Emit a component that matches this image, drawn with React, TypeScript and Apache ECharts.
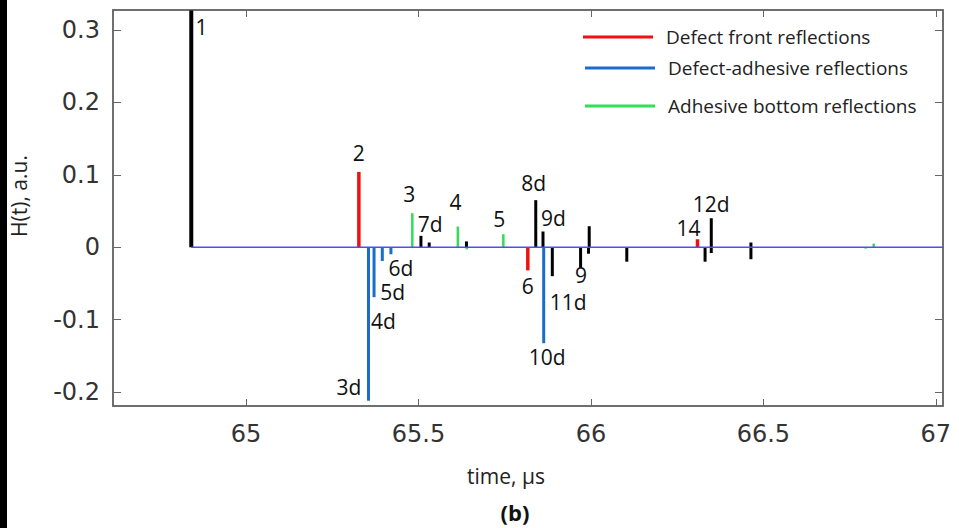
import React, { useEffect, useRef } from "react";
import * as echarts from "echarts";

// ---- data (time in µs, amplitude in a.u.) ----
const blackStemFirst: [number, number][] = [[64.841, 0.327]];
const blackStems: [number, number][] = [
  [65.507, 0.0157], [65.531, 0.0065], [65.639, 0.008], [65.84, 0.065],
  [65.861, 0.0217], [65.888, -0.04], [65.97, -0.029], [65.995, 0.029],
  [65.993, -0.009], [66.104, -0.02], [66.331, -0.02], [66.349, 0.04],
  [66.349, -0.008], [66.464, 0.0065], [66.464, -0.0166],
];
const redStems: [number, number][] = [[65.327, 0.104], [65.817, -0.032], [66.309, 0.011]];
const blueStems: [number, number][] = [
  [65.355, -0.212], [65.371, -0.069], [65.395, -0.019], [65.42, -0.0097], [65.863, -0.1326],
];
const greenStems: [number, number][] = [
  [65.482, 0.047], [65.614, 0.0286], [65.746, 0.018], [65.64, -0.003], [66.797, -0.002], [66.82, 0.005],
];
const baseline: [number, number][] = [[64.841, 0], [67.021, 0]];
const peakLabels: [string, number, number][] = [
  ["1", 64.871, 0.304], ["2", 65.327, 0.13], ["3", 65.473, 0.0739], ["7d", 65.534, 0.0318],
  ["4", 65.607, 0.0628], ["5", 65.734, 0.039], ["6d", 65.449, -0.029], ["5d", 65.425, -0.062],
  ["4d", 65.398, -0.1015], ["3d", 65.298, -0.193], ["8d", 65.834, 0.089], ["9d", 65.891, 0.0407],
  ["6", 65.817, -0.053], ["9", 65.971, -0.039], ["11d", 65.934, -0.076], ["10d", 65.873, -0.152],
  ["14", 66.283, 0.027], ["12d", 66.349, 0.0594],
];
const xTicks = [65, 65.5, 66, 66.5, 67];
const yTicks = [-0.2, -0.1, 0, 0.1, 0.2, 0.3];
const legendNames = ["Defect front reflections", "Defect-adhesive reflections", "Adhesive bottom reflections"];

const X_MIN = 64.614;
const X_MAX = 67.021;
const Y_MIN = -0.2193;
const Y_MAX = 0.3276;

function stemSeries(name: string, data: [number, number][], color: string, width: number, z = 3) {
  return {
    name,
    type: "custom",
    z,
    data,
    encode: { x: 0, y: 1 },
    itemStyle: { color },
    renderItem: (params: any, api: any) => {
      const x = api.value(0);
      const y = api.value(1);
      const p0 = api.coord([x, 0]);
      const p1 = api.coord([x, y]);
      return {
        type: "line",
        shape: { x1: p0[0], y1: p0[1], x2: p1[0], y2: p1[1] },
        style: { stroke: color, lineWidth: width },
      };
    },
  };
}

const axisColor = "#666";

export default function App() {
  const ref = useRef<HTMLDivElement>(null);
  useEffect(() => {
    if (!ref.current) return;
    const chart = echarts.init(ref.current, undefined, { renderer: "svg" });
    const legendBase = {
      orient: "horizontal",
      icon: "rect",
      itemWidth: 70,
      itemHeight: 3,
      padding: 0,
      selectedMode: false,
      textStyle: {
        fontFamily: "Open Sans",
        fontSize: 19,
        color: "#222",
        lineHeight: 22,
        padding: [0, 0, 0, 8],
      },
    };
    const axisLine = { show: true, onZero: false, lineStyle: { color: axisColor, width: 1.5 } };
    chart.setOption({
      animation: false,
      backgroundColor: "#fff",
      grid: {
        left: 113,
        right: 16,
        top: 10,
        bottom: 122,
        show: true,
        borderColor: axisColor,
        borderWidth: 1.5,
        backgroundColor: "transparent",
      },
      legend: [
        { ...legendBase, data: [legendNames[0]], left: 583, top: 26 },
        { ...legendBase, data: [legendNames[1]], left: 585, top: 57 },
        { ...legendBase, data: [legendNames[2]], left: 585, top: 95 },
      ],
      xAxis: [
        {
          type: "value",
          min: X_MIN,
          max: X_MAX,
          position: "bottom",
          splitLine: { show: false },
          axisLine,
          axisTick: { show: true, inside: true, length: 7, customValues: xTicks, lineStyle: { color: axisColor } },
          axisLabel: {
            customValues: xTicks,
            fontFamily: "DejaVu Sans",
            fontSize: 24,
            color: "#333",
            margin: 16,
          },
        },
        {
          type: "value",
          min: X_MIN,
          max: X_MAX,
          position: "top",
          splitLine: { show: false },
          axisLine,
          axisTick: { show: true, inside: true, length: 7, customValues: xTicks, lineStyle: { color: axisColor } },
          axisLabel: { show: false },
        },
      ],
      yAxis: [
        {
          type: "value",
          min: Y_MIN,
          max: Y_MAX,
          position: "left",
          splitLine: { show: false },
          axisLine,
          axisTick: { show: true, inside: true, length: 8, customValues: yTicks, lineStyle: { color: axisColor } },
          axisLabel: {
            customValues: yTicks,
            fontFamily: "DejaVu Sans",
            fontSize: 24,
            color: "#333",
            margin: 13,
          },
        },
        {
          type: "value",
          min: Y_MIN,
          max: Y_MAX,
          position: "right",
          splitLine: { show: false },
          axisLine,
          axisTick: { show: true, inside: true, length: 8, customValues: yTicks, lineStyle: { color: axisColor } },
          axisLabel: { show: false },
        },
      ],
      graphic: [
        { type: "rect", shape: { x: 0, y: 0, width: 7, height: 528 }, style: { fill: "#000" } },
        {
          type: "text",
          x: 19,
          y: 196,
          rotation: Math.PI / 2,
          style: {
            text: "H(t), a.u.",
            fontFamily: "Open Sans",
            fontSize: 21,
            fill: "#222",
            align: "center",
            verticalAlign: "middle",
          },
        },
        {
          type: "text",
          x: 506,
          y: 476,
          style: {
            text: "time, µs",
            fontFamily: "Open Sans",
            fontSize: 21,
            fill: "#222",
            align: "center",
            verticalAlign: "middle",
          },
        },
        {
          type: "text",
          x: 515,
          y: 512,
          style: {
            text: "(b)",
            fontFamily: "Open Sans",
            fontSize: 22,
            fontWeight: "bold",
            fill: "#111",
            align: "center",
            verticalAlign: "middle",
          },
        },
      ],
      series: [
        stemSeries("first", blackStemFirst, "#000", 4),
        stemSeries("other", blackStems, "#000", 3),
        stemSeries(legendNames[0], redStems, "#ee1111", 3.5),
        stemSeries(legendNames[1], blueStems, "#1a6dcc", 3),
        stemSeries(legendNames[2], greenStems, "#33dd55", 2.5),
        {
          name: "baseline",
          type: "line",
          z: 5,
          data: baseline,
          symbol: "none",
          lineStyle: { color: "#4d4dff", width: 1.5 },
        },
        {
          name: "labels",
          type: "custom",
          z: 6,
          data: peakLabels.map((l) => [l[1], l[2], l[0]]),
          encode: { x: 0, y: 1 },
          renderItem: (params: any, api: any) => {
            const p = api.coord([api.value(0), api.value(1)]);
            const txt = peakLabels[params.dataIndex][0];
            return {
              type: "text",
              x: p[0],
              y: p[1],
              style: {
                text: txt,
                fontFamily: "Open Sans",
                fontSize: 21,
                lineHeight: 18,
                fill: "#111",
                align: "center",
                verticalAlign: "middle",
              },
            };
          },
        },
      ],
    });
    return () => chart.dispose();
  }, []);
  return (
    <div
      ref={ref}
      style={{ position: "absolute", left: 0, top: 0, width: 959, height: 528, background: "#fff" }}
    />
  );
}
